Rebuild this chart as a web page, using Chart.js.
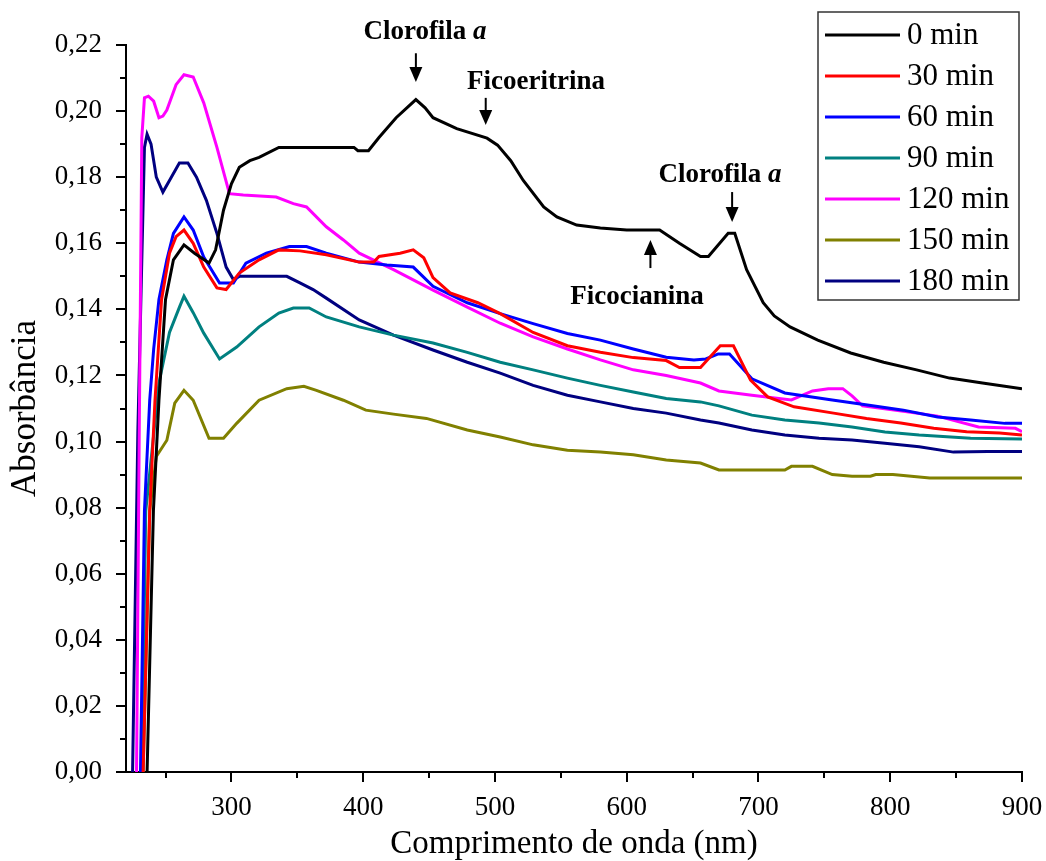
<!DOCTYPE html>
<html>
<head>
<meta charset="utf-8">
<script src="https://cdn.jsdelivr.net/npm/chart.js@4.4.0/dist/chart.umd.min.js"></script>
<style>
  html, body { margin: 0; padding: 0; background: #fff; }
  #wrap { width: 1046px; height: 861px; }
</style>
</head>
<body>
<div id="wrap"><canvas id="spectra" width="1046" height="861"></canvas></div>
<script>
// spectra: [wavelength nm, absorbance]
const min0 = [[233,-0.02],[236,0.0],[240.8,0.079],[245,0.1125],[250,0.143],[256,0.155],[264,0.1595],[272,0.157],[283,0.154],[288,0.158],[294,0.170],[300,0.178],[306,0.183],[314,0.185],[321,0.186],[336,0.189],[360,0.189],[393,0.189],[396,0.188],[404,0.188],[412,0.192],[425,0.198],[440,0.2035],[447,0.201],[453,0.198],[471,0.1947],[494,0.1918],[502,0.1897],[512,0.185],[521.5,0.179],[537,0.171],[547,0.168],[562,0.1655],[580,0.1646],[600,0.164],[625,0.164],[640,0.160],[656,0.156],[662,0.156],[677,0.163],[682,0.163],[691,0.152],[703.6,0.142],[712,0.138],[724,0.1347],[745,0.1307],[770,0.1268],[795,0.124],[820,0.1217],[845,0.1192],[870,0.1177],[900,0.116]];
const min30 = [[231,-0.02],[233,0.0],[238,0.079],[242,0.1125],[247,0.143],[253,0.157],[258,0.162],[264,0.164],[271,0.160],[279,0.1528],[289,0.1465],[296,0.146],[306,0.151],[321,0.155],[336,0.158],[352,0.1577],[372,0.1565],[397,0.1543],[408,0.1543],[412,0.156],[428,0.157],[438,0.158],[446,0.1556],[453,0.1496],[466,0.145],[487,0.142],[504,0.1387],[529,0.133],[555,0.129],[580,0.127],[605,0.1254],[630,0.1245],[640,0.1224],[656,0.1224],[671,0.129],[681,0.129],[694,0.1186],[707,0.1135],[727,0.1105],[757,0.1086],[782,0.107],[808,0.1056],[833,0.104],[858,0.103],[883,0.1026],[900,0.102]];
const min60 = [[229,-0.02],[231,0.0],[234,0.079],[238,0.1125],[241,0.128],[245,0.143],[251,0.155],[256,0.163],[264,0.168],[271,0.164],[279,0.1558],[291,0.148],[301.5,0.148],[311,0.154],[326.5,0.157],[344,0.159],[357,0.159],[372,0.157],[397,0.1543],[418,0.1534],[438,0.1528],[453,0.147],[479,0.142],[504,0.1387],[529,0.1357],[555,0.1327],[580,0.1307],[605,0.128],[630,0.1255],[651,0.1247],[660,0.125],[669.5,0.1265],[678,0.1265],[695,0.119],[720,0.1147],[756,0.1126],[784,0.111],[810,0.1095],[836,0.1074],[861,0.1065],[887,0.1055],[900,0.1055]];
const min90 = [[230,-0.02],[232,0.0],[235,0.079],[241,0.102],[245,0.1177],[253,0.133],[260.5,0.1406],[264,0.144],[271,0.139],[279,0.1328],[291,0.125],[304,0.1286],[321,0.1347],[336,0.1389],[347,0.1404],[359,0.1404],[372,0.1377],[397,0.1347],[423,0.1322],[453,0.1298],[479,0.127],[504,0.124],[529,0.1217],[555,0.1192],[580,0.117],[605,0.115],[630,0.113],[656,0.112],[670,0.1108],[695,0.108],[720,0.1065],[746,0.1056],[771,0.1044],[796,0.1029],[822,0.102],[861,0.101],[900,0.1008]];
const min120 = [[226,-0.02],[228,0.0],[230,0.10],[232,0.192],[234,0.204],[237,0.2045],[241,0.203],[245,0.198],[248,0.1985],[251,0.2003],[258,0.208],[264,0.211],[271,0.2103],[279,0.2025],[289,0.189],[298.5,0.175],[309,0.1746],[334,0.174],[347,0.172],[357,0.171],[372,0.165],[385,0.161],[397,0.157],[423,0.152],[453,0.1458],[479,0.1407],[504,0.1358],[529,0.1317],[555,0.128],[580,0.1247],[605,0.1217],[630,0.120],[656,0.1177],[670,0.1153],[695,0.114],[725,0.1126],[741,0.1153],[753,0.116],[764,0.116],[771,0.1138],[779,0.1108],[810,0.1092],[836,0.1077],[867,0.1044],[895,0.104],[900,0.103]];
const min150 = [[231,-0.02],[233,0.0],[238,0.079],[243,0.0955],[251,0.1004],[257,0.1116],[264,0.1155],[271,0.1125],[283,0.101],[294,0.101],[304,0.1055],[321,0.1125],[342,0.116],[355,0.1167],[364.5,0.1155],[385,0.1125],[402,0.1095],[423,0.1083],[448,0.107],[479,0.1035],[504,0.1014],[529,0.099],[555,0.0974],[580,0.0968],[605,0.096],[630,0.0944],[656,0.0935],[670,0.0914],[720,0.0914],[725,0.0925],[741,0.0925],[756,0.090],[771,0.0895],[785,0.0895],[789,0.090],[802,0.090],[830,0.089],[900,0.089]];
const min180 = [[223,-0.02],[225,0.0],[229,0.103],[232,0.155],[234,0.189],[236,0.193],[239,0.190],[243,0.180],[248,0.1755],[253,0.179],[260.5,0.1843],[267,0.1843],[273.5,0.180],[281,0.173],[289,0.163],[296,0.1528],[301.5,0.149],[306,0.150],[342,0.150],[352,0.148],[362,0.146],[372,0.1434],[397,0.1368],[423,0.1322],[453,0.1277],[479,0.124],[504,0.1207],[529,0.117],[555,0.114],[580,0.112],[605,0.110],[630,0.1086],[656,0.1065],[670,0.1056],[695,0.1035],[720,0.102],[746,0.101],[771,0.1005],[796,0.0995],[822,0.0984],[848,0.0968],[874,0.097],[900,0.097]];

const seriesNames = ['0 min', '30 min', '60 min', '90 min', '120 min', '150 min', '180 min'];
const seriesData = [min0, min30, min60, min90, min120, min150, min180];
const seriesColors = ['#000000', '#ff0000', '#0000ff', '#008080', '#ff00ff', '#808000', '#000080'];

const xTicks = [300, 400, 500, 600, 700, 800, 900];
const xMinor = [250, 350, 450, 550, 650, 750, 850];
const yTicks = [0, 0.02, 0.04, 0.06, 0.08, 0.10, 0.12, 0.14, 0.16, 0.18, 0.20, 0.22];
const yMinor = [0.01, 0.03, 0.05, 0.07, 0.09, 0.11, 0.13, 0.15, 0.17, 0.19, 0.21];

// peak labels: arrow from (x, from) to (x, to), in data units
const peakNotes = [
  { text: 'Clorofila ', ital: 'a', x: 440, from: 0.2175, to: 0.2088, tx: 425, ty: 39 },
  { text: 'Ficoeritrina', ital: '', x: 493, from: 0.204, to: 0.1958, tx: 536, ty: 89 },
  { text: 'Clorofila ', ital: 'a', x: 680, from: 0.1755, to: 0.1664, tx: 720, ty: 182 },
  { text: 'Ficocianina', ital: '', x: 618, from: 0.1525, to: 0.161, tx: 637, ty: 304 }
];

const serif = '"Liberation Serif", "Times New Roman", serif';

const extras = {
  id: 'extras',
  afterDraw(chart) {
    const { ctx, chartArea: a, scales: { x, y } } = chart;
    ctx.save();
    // minor ticks
    ctx.strokeStyle = '#000';
    ctx.lineWidth = 2;
    ctx.beginPath();
    xMinor.forEach(v => {
      const px = Math.round(x.getPixelForValue(v));
      ctx.moveTo(px, a.bottom); ctx.lineTo(px, a.bottom + 6);
    });
    yMinor.forEach(v => {
      const py = Math.round(y.getPixelForValue(v));
      ctx.moveTo(a.left, py); ctx.lineTo(a.left - 6, py);
    });
    ctx.stroke();

    // arrows + labels
    peakNotes.forEach(n => {
      const px = x.getPixelForValue(n.x);
      const p0 = y.getPixelForValue(n.from);
      const p1 = y.getPixelForValue(n.to);
      const dir = p1 > p0 ? 1 : -1;
      ctx.strokeStyle = '#000';
      ctx.lineWidth = 2;
      ctx.beginPath();
      ctx.moveTo(px, p0); ctx.lineTo(px, p1 - dir * 10);
      ctx.stroke();
      ctx.fillStyle = '#000';
      ctx.beginPath();
      ctx.moveTo(px, p1);
      ctx.lineTo(px - 6.5, p1 - dir * 15);
      ctx.lineTo(px + 6.5, p1 - dir * 15);
      ctx.closePath();
      ctx.fill();

      ctx.textBaseline = 'alphabetic';
      ctx.textAlign = 'left';
      ctx.font = 'bold 27px ' + serif;
      const w1 = ctx.measureText(n.text).width;
      ctx.font = 'italic bold 27px ' + serif;
      const w2 = n.ital ? ctx.measureText(n.ital).width : 0;
      const sx = n.tx - (w1 + w2) / 2;
      ctx.font = 'bold 27px ' + serif;
      ctx.fillText(n.text, sx, n.ty);
      if (n.ital) {
        ctx.font = 'italic bold 27px ' + serif;
        ctx.fillText(n.ital, sx + w1, n.ty);
      }
    });

    // legend box
    const lx = 818, ly = 12, lw = 201, lh = 288;
    ctx.fillStyle = '#fff';
    ctx.fillRect(lx, ly, lw, lh);
    ctx.strokeStyle = '#333';
    ctx.lineWidth = 1.5;
    ctx.strokeRect(lx, ly, lw, lh);
    ctx.font = '31px ' + serif;
    ctx.textBaseline = 'middle';
    chart.data.datasets.forEach((ds, i) => {
      const ry = 35 + i * 41;
      ctx.strokeStyle = ds.borderColor;
      ctx.lineWidth = 3;
      ctx.beginPath();
      ctx.moveTo(825, ry); ctx.lineTo(900, ry);
      ctx.stroke();
      ctx.fillStyle = '#000';
      ctx.fillText(ds.label, 907, ry + 1);
    });
    ctx.restore();
  }
};

new Chart(document.getElementById('spectra'), {
  type: 'line',
  data: {
    datasets: seriesData.map((pts, i) => ({
      label: seriesNames[i],
      data: pts.map(p => ({ x: p[0], y: p[1] })),
      borderColor: seriesColors[i],
      backgroundColor: seriesColors[i],
      borderWidth: 3,
      pointRadius: 0,
      tension: 0,
      fill: false
    }))
  },
  options: {
    responsive: false,
    animation: false,
    layout: { padding: { top: 45, right: 24, left: 0, bottom: 0 } },
    plugins: { legend: { display: false }, tooltip: { enabled: false } },
    scales: {
      x: {
        type: 'linear',
        min: 220,
        max: 900,
        afterBuildTicks: s => { s.ticks = xTicks.map(v => ({ value: v })); },
        afterFit: s => { s.height = 89; s.paddingLeft = 0; s.paddingRight = 0; },
        border: { display: true, color: '#000', width: 2 },
        grid: { drawOnChartArea: false, drawTicks: true, tickLength: 10, color: '#000', lineWidth: 2 },
        ticks: { color: '#000', font: { family: serif, size: 27 }, padding: 10, maxRotation: 0 },
        title: { display: true, text: 'Comprimento de onda (nm)', color: '#000', font: { family: serif, size: 33, lineHeight: 1.0 }, padding: { top: 0, bottom: 0 } }
      },
      y: {
        min: 0,
        max: 0.22,
        afterBuildTicks: s => { s.ticks = yTicks.map(v => ({ value: v })); },
        afterFit: s => { s.width = 126; s.paddingTop = 0; s.paddingBottom = 0; },
        border: { display: true, color: '#000', width: 2 },
        grid: { drawOnChartArea: false, drawTicks: true, tickLength: 10, color: '#000', lineWidth: 2 },
        ticks: { color: '#000', font: { family: serif, size: 27 }, padding: 14, callback: v => v.toFixed(2).replace('.', ',') },
        title: { display: true, text: 'Absorbância', color: '#000', font: { family: serif, size: 35 }, padding: { top: 5, bottom: 0 } }
      }
    }
  },
  plugins: [extras]
});
</script>
</body>
</html>
